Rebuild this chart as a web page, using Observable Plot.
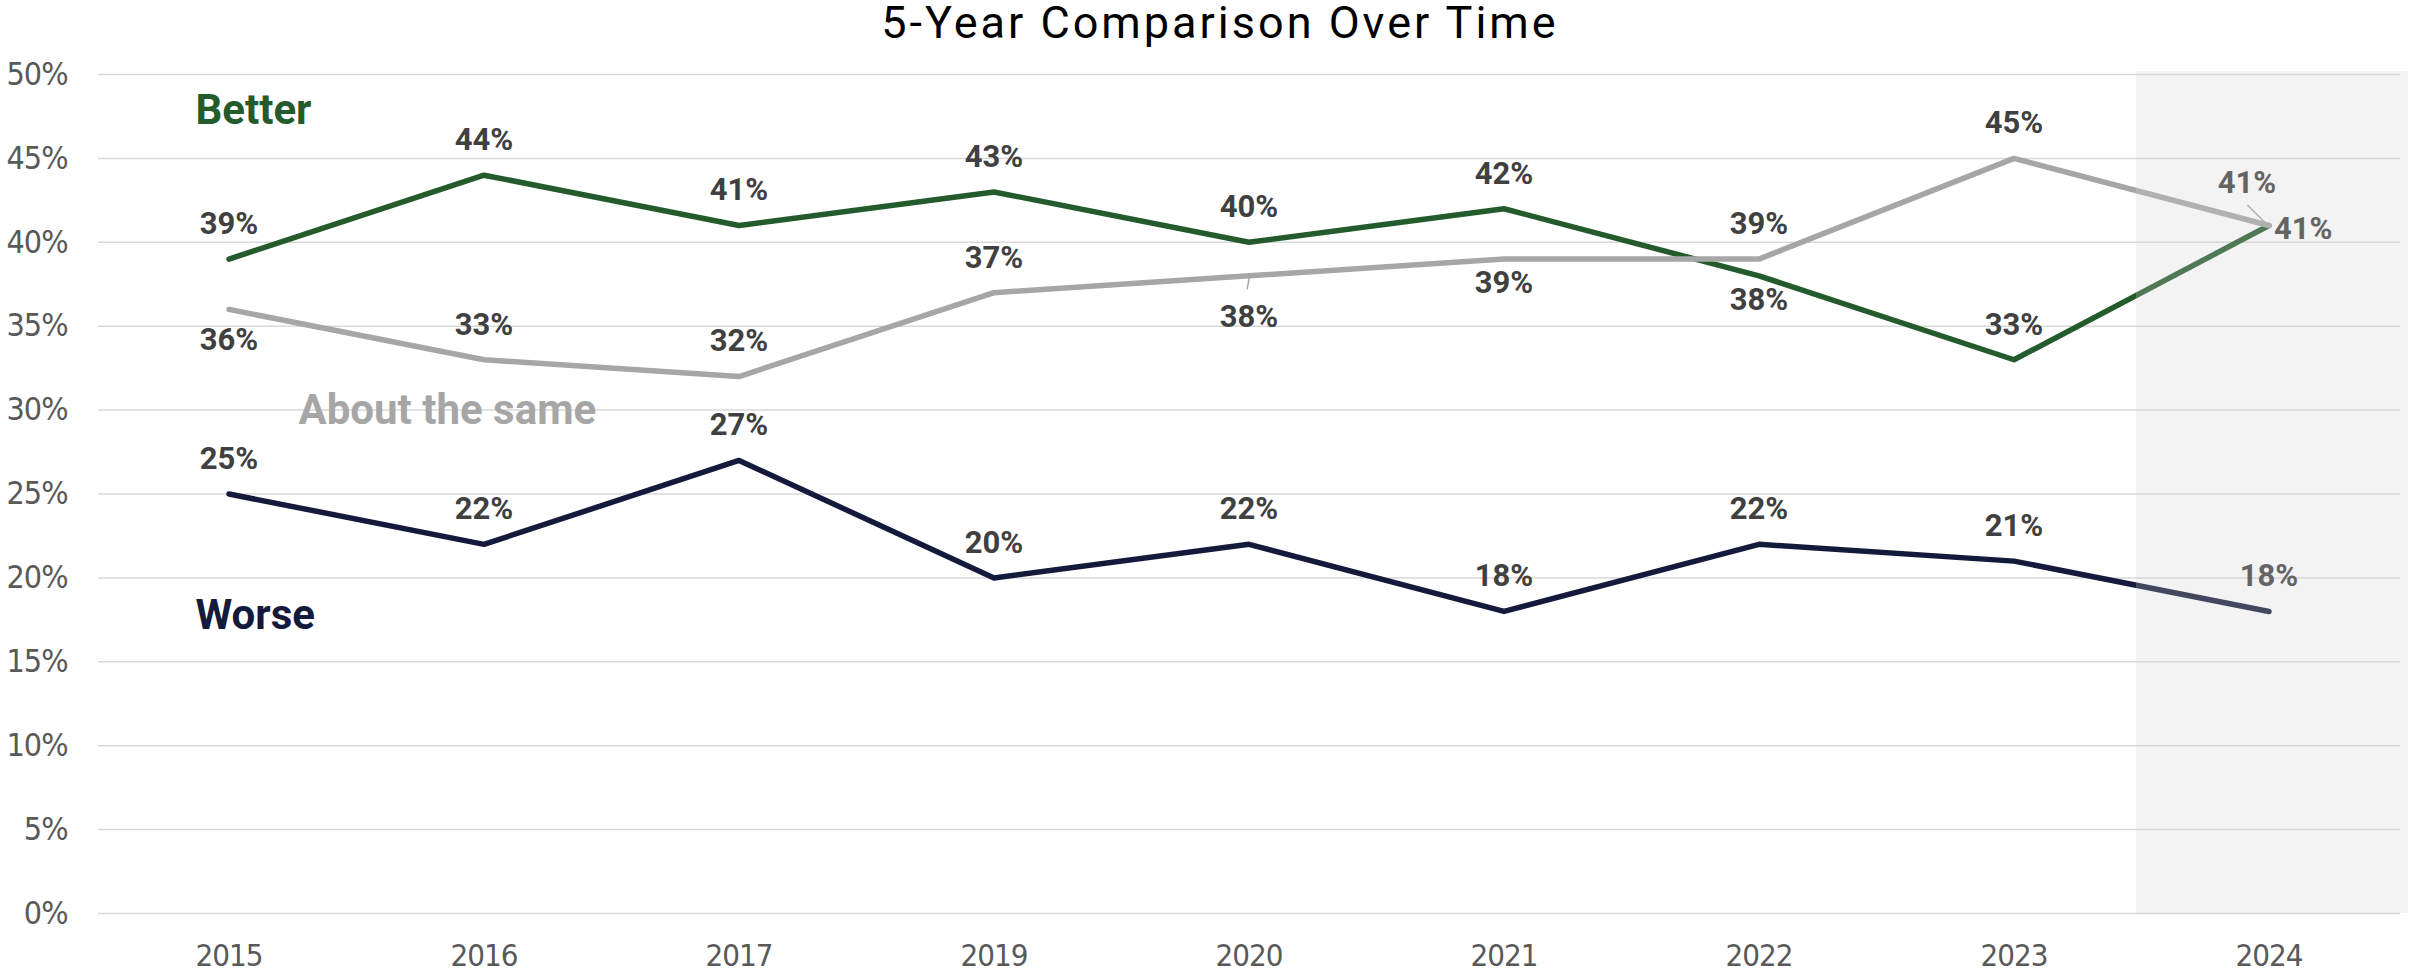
<!DOCTYPE html>
<html><head><meta charset="utf-8">
<script src="https://cdn.jsdelivr.net/npm/d3@7"></script>
<script src="https://cdn.jsdelivr.net/npm/@observablehq/plot@0.6"></script>
<style>
html,body{margin:0;padding:0;background:#fff;overflow:hidden}
#wrap{position:relative;width:2420px;height:973px}
#title{position:absolute;left:0;top:1px;width:2440px;text-align:center;font-family:Roboto,sans-serif;font-weight:400;font-size:45px;line-height:44px;letter-spacing:3px;color:#000;white-space:nowrap}
#chart{position:absolute;left:0;top:0}
g[aria-label="y-axis tick label"] text, g[aria-label="x-axis tick label"] text{letter-spacing:-1px}
</style></head><body>
<div id="wrap"><div id="chart"></div><div id="title">5-Year Comparison Over Time</div></div>
<script>
// ---- data ----
const years = ["2015","2016","2017","2019","2020","2021","2022","2023","2024"];
const better = [39,44,41,43,40,42,38,33,41];
const same   = [36,33,32,37,38,39,39,45,41];
const worse  = [25,22,27,20,22,18,22,21,18];
const seriesNames = ["Better","About the same","Worse"];
const yTicks = [0,5,10,15,20,25,30,35,40,45,50];
const highlightYears = ["2024"];

// ---- build table ----
const seriesValues = {"Better": better, "About the same": same, "Worse": worse};
const rows = [];
for (const s of seriesNames) years.forEach((yr,i)=>rows.push({series:s, year:yr, value:seriesValues[s][i]}));

const colors = {"Better":"#245b2c", "About the same":"#a6a6a6", "Worse":"#141a3b"};
const narrow = "'Liberation Sans Narrow','DejaVu Sans Condensed','Roboto Condensed',sans-serif";
const boldFont = "Roboto, 'Open Sans', sans-serif";

// label placement (layout configuration)
const placementOf = {
  "Better": {"2022":"below","2024":"right"},
  "About the same": {"2015":"belowFar","2020":"leader","2021":"below","2024":"leftUp"},
  "Worse": {}
};
const place = r => placementOf[r.series][r.year] || "above";
const placements = {
  above:{dx:0,dy:-35,textAnchor:"middle"},
  below:{dx:0,dy:24,textAnchor:"middle"},
  belowFar:{dx:0,dy:31,textAnchor:"middle"},
  leader:{dx:0,dy:41,textAnchor:"middle"},
  right:{dx:5,dy:4,textAnchor:"start"},
  leftUp:{dx:-22,dy:-42,textAnchor:"middle"}
};
const lineShape = {draw(ctx, l){ ctx.moveTo(0,0); ctx.lineTo(0,-l); }};

const marks = [
  Plot.ruleY(yTicks, {stroke:"#d9d9d9", strokeWidth:1.5}),
  Plot.axisY({ticks:yTicks, tickSize:0, tickPadding:31, tickFormat:d=>d+"%", fontSize:32, fontFamily:narrow, color:"#595959", label:null}),
  Plot.axisX({tickSize:0, tickPadding:30, fontSize:31, fontFamily:narrow, color:"#595959", label:null}),
];
for (const s of seriesNames) {
  marks.push(Plot.line(rows.filter(r=>r.series===s), {x:"year", y:"value", stroke:colors[s], strokeWidth:5.5, strokeLinejoin:"round", strokeLinecap:"round"}));
}
// leader lines
marks.push(Plot.vector(rows.filter(r=>place(r)==="leader"), {x:"year", y:"value", length:10, rotate:190, anchor:"start", dy:3, stroke:"#a6a6a6", strokeWidth:1.5, shape:lineShape}));
marks.push(Plot.vector(rows.filter(r=>place(r)==="leftUp"), {x:"year", y:"value", length:27, rotate:135, anchor:"end", dx:-2, dy:-1, stroke:"#a6a6a6", strokeWidth:1.5, shape:lineShape}));
for (const [p, o] of Object.entries(placements)) {
  marks.push(Plot.text(rows.filter(r=>place(r)===p), {x:"year", y:"value", text:d=>d.value+"%", dx:o.dx, dy:o.dy, textAnchor:o.textAnchor, fontSize:31, fontWeight:700, fontFamily:boldFont, fill:"#404040"}));
}
// series name labels
const nameOffsets = {"Better":{dx:97,dy:36}, "About the same":{dx:200,dy:336}, "Worse":{dx:97,dy:541}};
for (const s of seriesNames) {
  marks.push(Plot.text([s], {frameAnchor:"top-left", lineAnchor:"middle", text:d=>d, dx:nameOffsets[s].dx, dy:nameOffsets[s].dy, textAnchor:"start", fontSize:42, fontWeight:700, fontFamily:boldFont, fill:colors[s]}));
}
// highlight overlay for latest year
marks.push(Plot.cell(highlightYears, {x:d=>d, fill:"#cecece", fillOpacity:0.25, insetLeft:-5, insetRight:-12, insetTop:-3}));

const chart = Plot.plot({
  width:2420, height:973,
  marginTop:74, marginBottom:60, marginLeft:98, marginRight:20,
  style:{background:"transparent", fontFamily:"Roboto, sans-serif"},
  x:{type:"band", domain:years, range:[97,2400], padding:0, align:0.5},
  y:{domain:[0,50], range:[913,74]},
  marks
});
document.getElementById("chart").appendChild(chart);
</script>
</body></html>
